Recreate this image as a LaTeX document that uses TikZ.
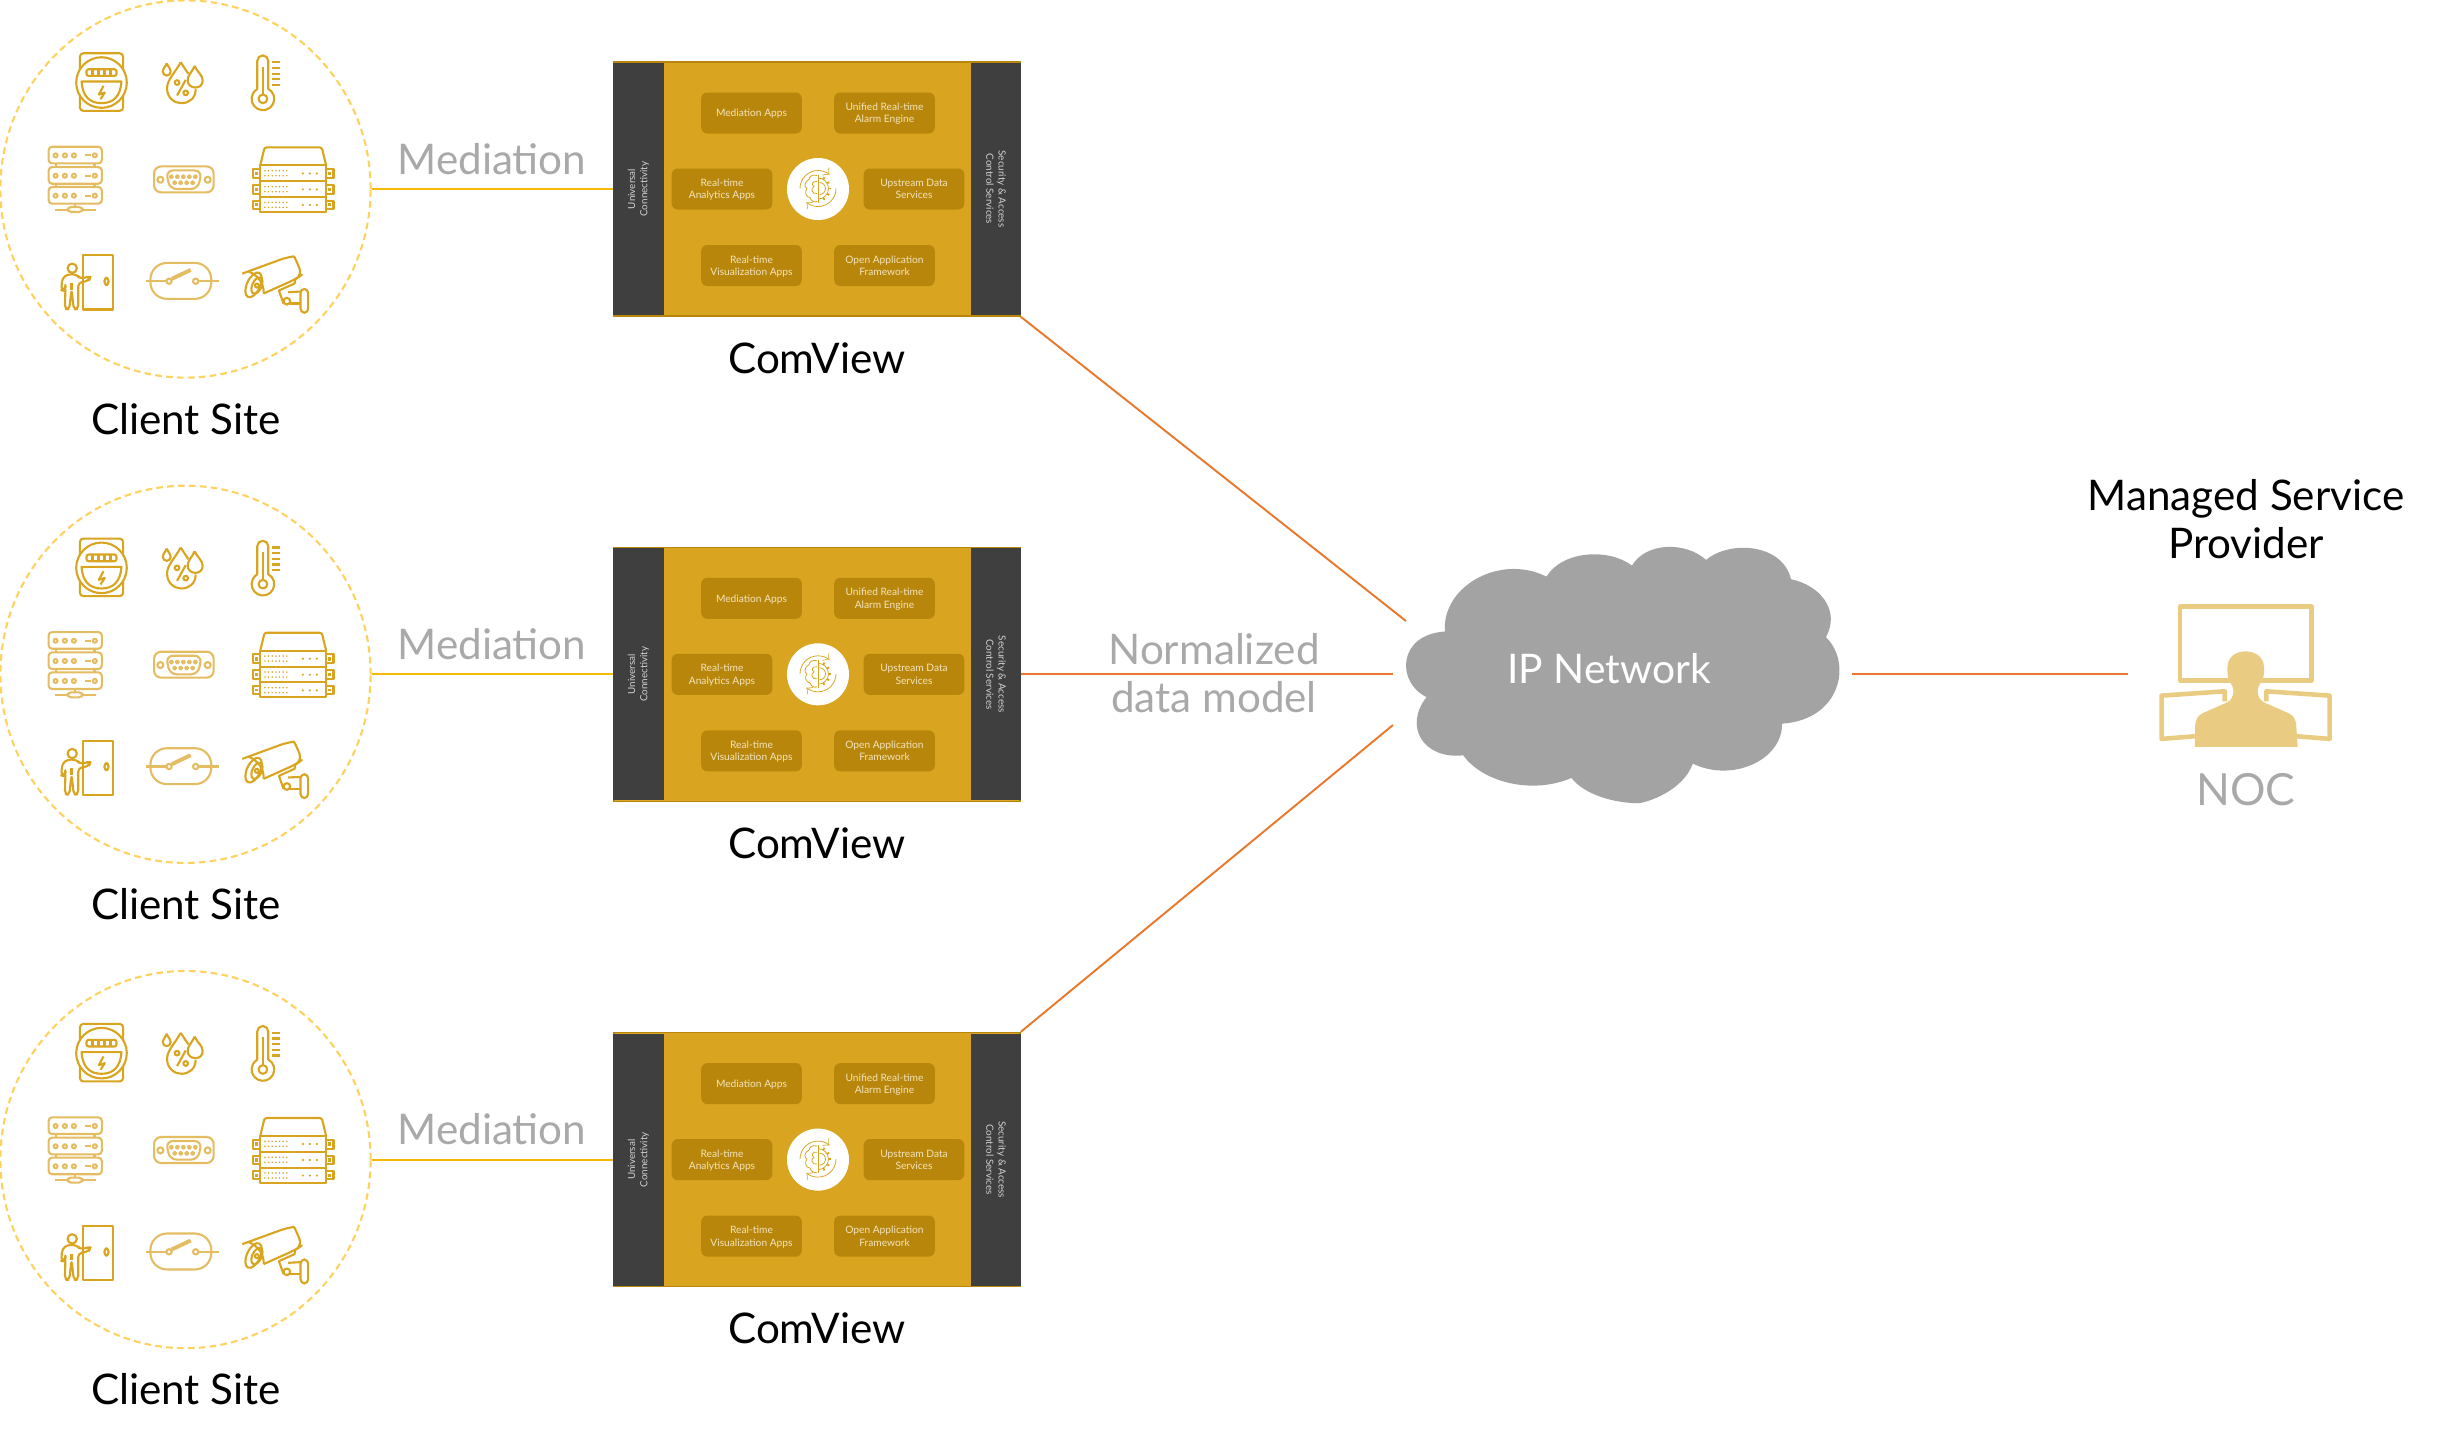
\documentclass[tikz,border=0pt]{standalone}
\usepackage{fontspec}
\setmainfont{Lato}
\usepackage{tikz}
\usetikzlibrary{arrows,shapes.geometric}
\definecolor{gold}{HTML}{D9A520}
\definecolor{darkgold}{HTML}{B8860B}
\definecolor{iconlight}{HTML}{E4BC62}
\definecolor{panel}{HTML}{3F3F3F}
\definecolor{mustard}{HTML}{F8BA00}
\definecolor{ringcol}{HTML}{FDD25E}
\definecolor{orangeline}{HTML}{E9782D}
\definecolor{softgrey}{HTML}{A9A9A9}
\definecolor{cloudgrey}{HTML}{A3A3A3}
\definecolor{nocyellow}{HTML}{EACB82}
\definecolor{apptext}{HTML}{F3E4BC}
\definecolor{paneltext}{HTML}{D2D2D2}

% icons of one client site, in thirds of a pixel
\newcommand{\meteric}{
\draw[ic,rounded corners=1pt] (240,160) rectangle (370,333);
\draw[ic,fill=white] (305,248) circle (76);
\draw[ic,rounded corners=.6pt] (260,208) rectangle (350,228);
\foreach \u in {278,296,314,332} {\draw[ic] (\u,208) -- (\u,228);}
\draw[ic] (245,245) -- (365,245) .. controls (362,290) and (340,310) .. (305,310) .. controls (270,310) and (248,290) .. (245,245) -- cycle;
\draw[ic] (311,258) -- (297,284) -- (315,278) -- (302,298);
}
\newcommand{\dropsic}{
\draw[ic] (543,187) .. controls (525,220) and (502,240) .. (502,265) .. controls (502,295) and (525,310) .. (545,310) .. controls (568,310) and (588,295) .. (588,268);
\draw[ic] (543,187) -- (566,222);
\draw[ic] (501,190) .. controls (495,205) and (489,205) .. (489,214) .. controls (489,222) and (495,227) .. (501,227) .. controls (508,227) and (513,222) .. (513,214) .. controls (513,205) and (507,205) .. (501,190);
\draw[ic,fill=white] (585,198) .. controls (575,220) and (564,225) .. (564,242) .. controls (564,255) and (575,263) .. (587,263) .. controls (600,263) and (609,255) .. (609,242) .. controls (609,225) and (595,220) .. (585,198);
\draw[ic] (558,240) -- (532,287);
\draw[ic] (532,248) circle (7);
\draw[ic] (558,279) circle (7);
}
\newcommand{\thermoic}{
\draw[ic] (773,267) -- (773,183) arc (180:360:16.5) -- (806,267) arc (-62:242:34);
\draw[ic] (790,297) circle (13);
\draw[ic] (790,284) -- (790,200);
\foreach \u in {187,204,221,238,255} {\draw[ic] (818,\u) -- (840,\u);}
}
\newcommand{\serverlic}{
\foreach \u in {441,502,562} {
\draw[icl,rounded corners=1pt] (146,\u) rectangle (306,\u+50);
\foreach \v in {167,195,222,285} {\draw[icl] (\v,\u+26) circle (6);}
\draw[icl] (254,\u+26) -- (272,\u+26);
}
\foreach \u in {492,552} {\draw[icl] (168,\u) -- (168,\u+10); \draw[icl] (284,\u) -- (284,\u+10);}
\draw[icl] (225,612) -- (225,622);
\draw[icl] (165,630) -- (203,630);
\draw[icl] (248,630) -- (288,630);
\draw[icl,rounded corners=1pt] (203,622) rectangle (248,637);
}
\newcommand{\dbic}{
\draw[icl,rounded corners=2pt] (463,500) rectangle (642,578);
\draw[icl] (482,540) circle (9);
\draw[icl] (624,540) circle (9);
\draw[icl,rounded corners=2pt] (499,512) -- (606,512) -- (595,568) -- (510,568) -- cycle;
\foreach \u in {515,533,551,569,587} {\draw[icl] (\u,531) circle (4.5);}
\foreach \u in {525,543,561,579} {\draw[icl] (\u,549) circle (4.5);}
}
\newcommand{\rackic}{
\draw[ic,rounded corners=.6pt] (782,497) -- (795,443) -- (967,443) -- (980,497);
\foreach \u/\w in {497/545,545/592,592/637} {
\draw[ic] (782,\u) rectangle (980,\w);
\draw[ic] (782,\u+11) -- (760,\u+11) -- (760,\w-10) -- (782,\w-10);
\draw[ic] (980,\u+11) -- (1002,\u+11) -- (1002,\w-10) -- (980,\w-10);
\fill[gold] (767,\u+19) rectangle (775,\w-18);
\fill[gold] (987,\u+19) rectangle (995,\w-18);
\foreach \v in {796,807,818,829,840,851,862} {
\fill[gold] (\v,\u+16) circle (2.6);
\fill[gold] (\v,\u+31) circle (2.6);
}
\foreach \v in {910,931,952} {\fill[gold] (\v,\u+24) circle (3.6);}
}
}
\newcommand{\doormanic}{
\draw[ic] (249,767) rectangle (340,930);
\draw[ic,rounded corners=.8pt] (314,835) rectangle (326,856);
\draw[ic] (217,806) circle (14);
\draw[ic,rounded corners=1pt] (203,824) -- (187,836) -- (184,872) -- (194,874) -- (197,850) -- (195,928) -- (208,930) -- (215,870) -- (222,930) -- (235,928) -- (235,850) -- (268,843) -- (271,832) -- (262,832) -- (240,838) -- (232,825) -- cycle;
\draw[ic] (215,870) -- (215,850);
}
\newcommand{\switchic}{
\draw[icl,rounded corners=4.7pt] (452,790) rectangle (635,898);
\draw[icl] (440,845) -- (500,845);
\draw[icl] (597,845) -- (657,845);
\draw[icl] (508,845) circle (8);
\draw[icl] (588,845) circle (8);
\draw[icl,line width=1.1pt] (516,838) -- (573,811);
}
\newcommand{\cameraic}{
\draw[ic,rounded corners=2pt] (728,822) -- (862,773) .. controls (885,770) and (895,795) .. (908,825) -- (890,838) -- (792,882);
\draw[ic,rotate around={-25:(762,856)}] (762,856) ellipse (20 and 40);
\draw[ic,rotate around={-25:(772,858)}] (772,858) ellipse (14 and 26);
\draw[ic] (772,858) circle (6);
\draw[ic] (745,815) .. controls (775,825) and (795,855) .. (792,882);
\draw[ic] (888,838) -- (885,852) -- (838,873) -- (852,912);
\draw[ic] (862,905) circle (10);
\draw[ic] (866,878) -- (903,876);
\draw[ic] (872,912) -- (903,912);
\draw[ic,rounded corners=1.2pt] (903,868) rectangle (926,940);
}
\newcommand{\siteicons}{\meteric \dropsic \thermoic \serverlic \dbic \rackic \doormanic \switchic \cameraic}
\newcommand{\hublogo}{
\draw[lg,-to] (-18,0) arc (180:310:18);
\draw[lg,-to] (18,0) arc (0:130:18);
\draw[lg] (0,-10.5) arc (-90:90:10.5);
\foreach \a in {-60,-30,0,30,60} {\draw[lg,line width=.5pt] (\a:10.5) -- (\a:13);}
\draw[lg] (0,-14) -- (0,14);
\draw[lg] (1.5,-6) arc (-90:90:6);
\draw[lg] (-1,-13) .. controls (-6,-15) and (-9,-11) .. (-9,-9) .. controls (-14,-7) and (-14,-1) .. (-11,0) .. controls (-14,3) and (-12,9) .. (-8,9) .. controls (-7,13) and (-3,14) .. (-1,13);
\draw[lg] (-1,-7) .. controls (-6,-8) and (-7,-3) .. (-4,-2) .. controls (-8,0) and (-6,6) .. (-1,5);
}

\begin{document}
\begin{tikzpicture}[x=0.01cm,y=-0.01cm]
\tikzstyle{ic} = [draw=gold,line width=.6pt,line join=round]
\tikzstyle{icl} = [draw=iconlight,line width=.6pt,line join=round]
\tikzstyle{lg} = [draw=gold,line width=.22pt]
\tikzstyle{ring} = [ellipse,draw=ringcol,line width=.6pt,dash pattern=on 1.9pt off 1.2pt,minimum width=3.7cm,minimum height=3.77cm,inner sep=0pt]
\tikzstyle{board} = [rectangle,draw=darkgold,fill=gold,line width=.4pt,minimum width=4.06cm,minimum height=2.54cm,inner sep=0pt]
\tikzstyle{side} = [rectangle,fill=panel,text=paneltext,minimum width=2.52cm,minimum height=.5cm,inner sep=0pt,align=center,font=\fontsize{2.8}{3.5}\selectfont]
\tikzstyle{app} = [rectangle,rounded corners=1.7pt,fill=darkgold,text=apptext,minimum width=1.005cm,minimum height=.41cm,inner sep=0pt,align=center,font=\fontsize{2.9}{3.5}\selectfont,text depth=0pt]
\tikzstyle{title} = [align=center,font=\fontsize{12}{13.8}\selectfont]
\tikzstyle{soft} = [title,text=softgrey]
\tikzstyle{medline} = [draw=mustard,line width=.5pt]
\tikzstyle{netline} = [draw=orangeline,line width=.55pt]
\useasboundingbox (0,0) rectangle (2441,1441);

\foreach \n/\dy in {a/0,b/485.3,c/970.6} {
\begin{scope}[shift={(0,\dy)}]
\node[ring] (site\n) at (185.5,189) {};
\begin{scope}[x=0.00333cm,y=-0.00333cm]
\siteicons
\end{scope}
\node[title] (sitename\n) at (186,419) {Client Site};
\node[soft] (med\n) at (492,159) {Mediation};
\node[board] (box\n) at (817,189) {};
\node[side,rotate=90] (left\n) at (638.5,189) {Universal\\Connectivity};
\node[side,rotate=-90] (right\n) at (996,189) {Security \& Access\\Control Services};
\node[app] (mediation\n) at (751.5,113) {Mediation Apps};
\node[app] (unified\n) at (884.5,113) {Unified Real-time\\Alarm Engine};
\node[app] (analytics\n) at (722,189) {Real-time\\Analytics Apps};
\node[app] (upstream\n) at (914,189) {Upstream Data\\Services};
\node[app] (visual\n) at (751.5,265.5) {Real-time\\Visualization Apps};
\node[app] (open\n) at (884.5,265.5) {Open Application\\Framework};
\node[circle,fill=white,minimum size=.62cm,inner sep=0pt] (hub\n) at (818,189) {};
\begin{scope}[shift={(818,188.5)}]
\hublogo
\end{scope}
\node[title] (boxname\n) at (817,358) {ComView};
\draw[medline] (site\n.east) -- (box\n.west);
\end{scope}
}

%cloud
\begin{scope}[shift={(1380,520)},x=0.00333cm,y=-0.00333cm]
\fill[cloudgrey] (195,335) .. controls (185,200) and (360,100) .. (500,170)
.. controls (550,90) and (690,85) .. (757,137)
.. controls (800,65) and (920,65) .. (980,120)
.. controls (1050,60) and (1210,70) .. (1235,178)
.. controls (1320,195) and (1385,270) .. (1340,352)
.. controls (1420,430) and (1385,600) .. (1208,612)
.. controls (1210,720) and (1060,790) .. (940,732)
.. controls (910,815) and (800,850) .. (775,851)
.. controls (700,850) and (615,825) .. (575,775)
.. controls (460,825) and (310,790) .. (250,707)
.. controls (130,720) and (70,620) .. (140,532)
.. controls (50,490) and (50,345) .. (195,335);
\end{scope}
\node[text=white,font=\fontsize{11.6}{14}\selectfont] (cloud) at (1609,669) {IP Network};
\coordinate (inupper) at (1406,621);
\coordinate (inmid) at (1393,674.3);
\coordinate (inlower) at (1393,725);
\coordinate (outnet) at (1852,674.3);
\coordinate (innoc) at (2128,674.3);

\draw[netline] (boxa.south east) -- (inupper);
\draw[netline] (boxb.east) -- (inmid);
\draw[netline] (boxc.north east) -- (inlower);
\draw[netline] (outnet) -- (innoc);

\node[soft] (model) at (1214,673) {Normalized\\data model};
\node[title] (provider) at (2246,519) {Managed Service\\Provider};
\node[soft,font=\fontsize{12.6}{14}\selectfont] (noc) at (2246,790) {NOC};

%noc screens and person
\begin{scope}[shift={(2080,460)},x=0.00333cm,y=-0.00333cm]
\draw[draw=nocyellow,line width=1.3pt,line join=round] (301,441) rectangle (696,662);
\draw[draw=nocyellow,line width=1.3pt,line join=round] (345,830) -- (245,838) -- (245,708) -- (435,695) -- (435,725);
\draw[draw=nocyellow,line width=1.3pt,line join=round] (650,830) -- (750,838) -- (750,708) -- (560,695) -- (560,725);
\fill[nocyellow] (345,862) -- (654,862) -- (650,800) .. controls (648,775) and (640,768) .. (625,760) -- (552,728) .. controls (530,715) and (530,685) .. (543,670) .. controls (553,660) and (553,640) .. (553,625) .. controls (553,590) and (525,575) .. (497,575) .. controls (470,575) and (443,590) .. (443,625) .. controls (443,640) and (443,660) .. (452,670) .. controls (465,685) and (465,715) .. (443,728) -- (370,760) .. controls (355,768) and (348,775) .. (346,800) -- cycle;
\end{scope}
\end{tikzpicture}
\end{document}
